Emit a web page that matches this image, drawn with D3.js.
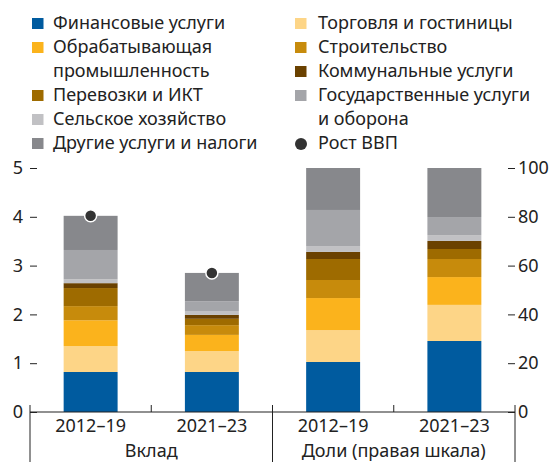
<!DOCTYPE html>
<html>
<head>
<meta charset="utf-8">
<script src="https://cdn.jsdelivr.net/npm/d3@7"></script>
<style>
  body { margin: 0; background: #fff; }
  text { font-family: "Noto Sans", sans-serif; fill: #222; }
</style>
</head>
<body>
<script>
// Data
var categories = ["c2012", "c2021", "s2012", "s2021"];
var catLabels = ["2012–19", "2021–23", "2012–19", "2021–23"];
var groups = ["Вклад", "Доли (правая шкала)"];

var sectors = ["Финансовые услуги", "Торговля и гостиницы", "Обрабатывающая промышленность",
  "Строительство", "Перевозки и ИКТ", "Коммунальные услуги", "Сельское хозяйство",
  "Государственные услуги и оборона", "Другие услуги и налоги"];
var colors = ["#005b9f", "#fdd587", "#fbb31c", "#c78b0c", "#9e6b00", "#6a4100", "#c1c1c4", "#a4a5a9", "#87888c"];

// contributions, percentage points (left scale)
var contrib2012 = [0.82, 0.53, 0.53, 0.29, 0.37, 0.10, 0.08, 0.60, 0.70];
var contrib2021 = [0.82, 0.43, 0.33, 0.20, 0.13, 0.08, 0.08, 0.20, 0.58];
// shares, percent (right scale)
var share2012 = [20.5, 13.1, 13.1, 7.4, 8.6, 2.9, 2.4, 14.8, 17.2];
var share2021 = [29.1, 14.8, 11.4, 7.4, 4.1, 3.3, 2.4, 7.4, 20.1];
var gdpGrowth = [4.02, 2.85];

var leftTicks = [0, 1, 2, 3, 4, 5];
var rightTicks = [0, 20, 40, 60, 80, 100];

var width = 555, height = 462;
var svg = d3.select("body").append("svg").attr("width", width).attr("height", height);

var x = d3.scaleBand().domain(categories).range([30, 515]).paddingInner(0.555).paddingOuter(0.2775);
var yL = d3.scaleLinear().domain([0, 5]).range([412, 168]);
var yR = d3.scaleLinear().domain([0, 100]).range([412, 168]);

var seriesData = [
  { cat: "c2012", vals: contrib2012, y: yL },
  { cat: "c2021", vals: contrib2021, y: yL },
  { cat: "s2012", vals: share2012, y: yR },
  { cat: "s2021", vals: share2021, y: yR }
];

// stacked bars
seriesData.forEach(function(s) {
  var acc = 0;
  var segs = s.vals.map(function(v, i) {
    var seg = { y0: acc, y1: acc + v, color: colors[i] };
    acc += v;
    return seg;
  });
  svg.append("g").selectAll("rect").data(segs).enter().append("rect")
    .attr("x", x(s.cat))
    .attr("width", x.bandwidth())
    .attr("y", function(d) { return s.y(d.y1); })
    .attr("height", function(d) { return s.y(d.y0) - s.y(d.y1); })
    .attr("fill", function(d) { return d.color; });
});

// GDP growth dots
svg.append("g").selectAll("circle").data(gdpGrowth).enter().append("circle")
  .attr("cx", function(d, i) { return x(categories[i]) + x.bandwidth() / 2; })
  .attr("cy", function(d) { return yL(d); })
  .attr("r", 6)
  .attr("fill", "#333")
  .attr("stroke", "#fff")
  .attr("stroke-width", 1.5);

// left axis
var gl = svg.append("g").attr("transform", "translate(30,0)")
  .call(d3.axisLeft(yL).tickValues(leftTicks).tickFormat(d3.format("d")).tickSize(-7).tickPadding(7));
gl.select(".domain").remove();
gl.selectAll("line").attr("stroke", "#222");
gl.selectAll("text").style("font-size", "18px").style("font-family", "Noto Sans");

// right axis
var gr = svg.append("g").attr("transform", "translate(515,0)")
  .call(d3.axisRight(yR).tickValues(rightTicks).tickSize(-7).tickPadding(3));
gr.select(".domain").remove();
gr.selectAll("line").attr("stroke", "#222");
gr.selectAll("text").style("font-size", "18px").style("font-family", "Noto Sans");

// bottom axis
var step = x.step();
var bounds = d3.range(categories.length + 1).map(function(k) { return 30 + k * step; });
svg.append("line").attr("x1", 30).attr("x2", 515).attr("y1", yL(0)).attr("y2", yL(0))
  .attr("stroke", "#222").attr("stroke-width", 1.2);
svg.append("g").selectAll("line").data(bounds).enter().append("line")
  .attr("x1", function(d) { return d; }).attr("x2", function(d) { return d; })
  .attr("y1", yL(0) - 7)
  .attr("y2", function(d, i) { return i % 2 === 0 ? height : yL(0); })
  .attr("stroke", "#222");

svg.append("g").selectAll("text").data(catLabels).enter().append("text")
  .attr("x", function(d, i) { return x(categories[i]) + x.bandwidth() / 2; })
  .attr("y", 431.5)
  .attr("text-anchor", "middle")
  .style("font-size", "18px")
  .text(function(d) { return d; });

svg.append("g").selectAll("text").data(groups).enter().append("text")
  .attr("x", function(d, i) { return (bounds[i * 2] + bounds[i * 2 + 2]) / 2; })
  .attr("y", 456.5)
  .attr("text-anchor", "middle")
  .style("font-size", "18px")
  .text(function(d) { return d; });

// legend
var legendLeft = [
  { lines: ["Финансовые услуги"], color: colors[0] },
  { lines: ["Обрабатывающая", "промышленность"], color: colors[2] },
  { lines: ["Перевозки и ИКТ"], color: colors[4] },
  { lines: ["Сельское хозяйство"], color: colors[6] },
  { lines: ["Другие услуги и налоги"], color: colors[8] }
];
var legendRight = [
  { lines: ["Торговля и гостиницы"], color: colors[1] },
  { lines: ["Строительство"], color: colors[3] },
  { lines: ["Коммунальные услуги"], color: colors[5] },
  { lines: ["Государственные услуги", "и оборона"], color: colors[7] },
  { lines: ["Рост ВВП"], color: "#333", dot: true }
];

function drawLegend(items, sx, tx) {
  var row = 0;
  items.forEach(function(it) {
    var base = 29 + row * 24;
    if (it.dot) {
      svg.append("circle").attr("cx", sx + 6).attr("cy", base - 5).attr("r", 6).attr("fill", it.color);
    } else {
      svg.append("rect").attr("x", sx).attr("y", base - 11).attr("width", 11.5).attr("height", 11)
        .attr("fill", it.color);
    }
    it.lines.forEach(function(l, j) {
      svg.append("text").attr("x", tx).attr("y", base + j * 24)
        .style("font-size", "18px").text(l);
    });
    row += it.lines.length;
  });
}
drawLegend(legendLeft, 32, 53);
drawLegend(legendRight, 295, 318);
</script>
</body>
</html>
